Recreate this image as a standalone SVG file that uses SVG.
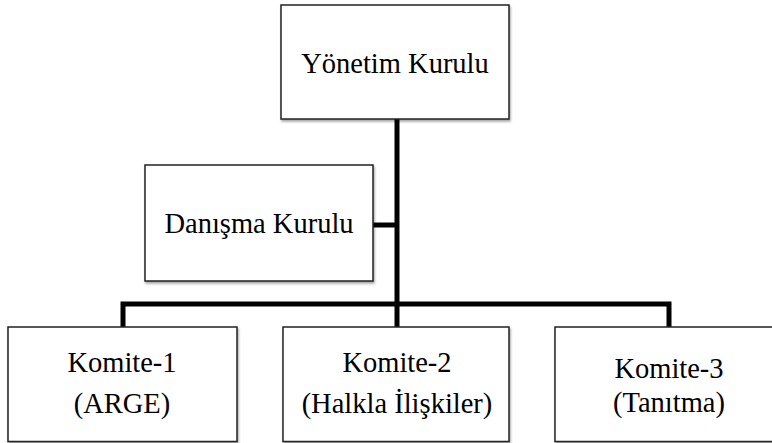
<svg xmlns="http://www.w3.org/2000/svg" width="772" height="443" viewBox="0 0 772 443">
<defs>
<filter id="sh" x="-5%" y="-5%" width="115%" height="120%">
<feDropShadow dx="1" dy="2" stdDeviation="1.2" flood-color="#000" flood-opacity="0.35"/>
</filter>
</defs>
<style>
.box{fill:#fff;stroke:#222;stroke-width:1.5;filter:url(#sh)}
.t{font-family:'Liberation Serif','Times New Roman','DejaVu Serif',serif;font-size:28.5px;fill:#000;text-anchor:middle}
.c{fill:none;stroke:#000;stroke-width:5;stroke-linejoin:miter;stroke-linecap:butt}
</style>
<rect width="772" height="443" fill="#fff"/>
<g id="connectors">
<path class="c" d="M397 119 V327"/>
<path class="c" d="M373 225 H397"/>
<path class="c" d="M123 327 V304 H669 V327"/>
</g>
<g id="yonetim">
<rect class="box" x="281" y="5" width="228" height="114"/>
<text class="t" font-family="Liberation Serif, serif" x="395" y="73">Yönetim Kurulu</text>
</g>
<g id="danisma">
<rect class="box" x="145" y="165" width="228" height="116"/>
<text class="t" font-family="Liberation Serif, serif" x="259" y="233">Danışma Kurulu</text>
</g>
<g id="komite1">
<rect class="box" x="8" y="327" width="229" height="114.5"/>
<text class="t" font-family="Liberation Serif, serif" x="122" y="372">Komite-1</text>
<text class="t" font-family="Liberation Serif, serif" x="122" y="413">(ARGE)</text>
</g>
<g id="komite2">
<rect class="box" x="283" y="327" width="226" height="114.5"/>
<text class="t" font-family="Liberation Serif, serif" x="397" y="372">Komite-2</text>
<text class="t" font-family="Liberation Serif, serif" x="397" y="413">(Halkla İlişkiler)</text>
</g>
<g id="komite3">
<rect class="box" x="555" y="327" width="228" height="114.5"/>
<text class="t" font-family="Liberation Serif, serif" x="669" y="378">Komite-3</text>
<text class="t" font-family="Liberation Serif, serif" x="669" y="412">(Tanıtma)</text>
</g>
</svg>
